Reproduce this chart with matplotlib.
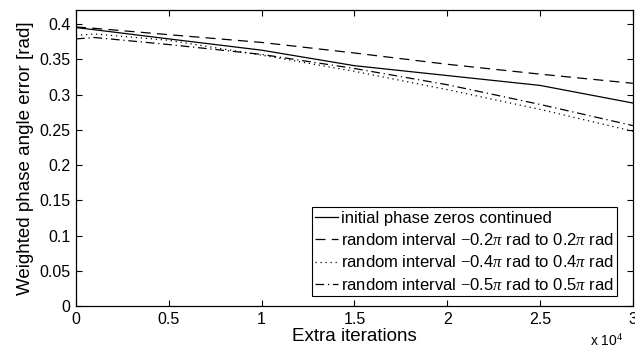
import matplotlib
matplotlib.use("Agg")
import matplotlib.pyplot as plt
from matplotlib.ticker import FuncFormatter

plt.rcParams["font.family"] = ["Liberation Sans", "DejaVu Sans"]
plt.rcParams["mathtext.fontset"] = "custom"
plt.rcParams["mathtext.rm"] = "Liberation Serif"
plt.rcParams["mathtext.it"] = "Liberation Serif:italic"

# Data (extra iterations, weighted phase angle error in rad)
iterations = [0, 1000, 5000, 10000, 15000, 20000, 25000, 30000]
err_zeros = [0.395, 0.392, 0.379, 0.363, 0.341, 0.327, 0.313, 0.288]
err_pi02 = [0.396, 0.394, 0.385, 0.374, 0.359, 0.343, 0.329, 0.316]
err_pi04 = [0.384, 0.386, 0.377, 0.356, 0.333, 0.307, 0.279, 0.248]
err_pi05 = [0.379, 0.381, 0.371, 0.357, 0.337, 0.314, 0.286, 0.256]

labels = [
    "initial phase zeros continued",
    r"random interval $-$0.2$\pi$ rad to 0.2$\pi$ rad",
    r"random interval $-$0.4$\pi$ rad to 0.4$\pi$ rad",
    r"random interval $-$0.5$\pi$ rad to 0.5$\pi$ rad",
]

fig = plt.figure(figsize=(6.35, 3.5), dpi=100)
ax = fig.add_axes([0.1197, 0.1257, 0.877, 0.8457])

lw = 0.9
ax.plot(iterations, err_zeros, color="black", lw=lw, linestyle="-", label=labels[0])
ax.plot(iterations, err_pi02, color="black", lw=lw, linestyle=(0, (8, 5)), label=labels[1])
ax.plot(iterations, err_pi04, color="black", lw=lw, linestyle=(0, (1, 3)), label=labels[2])
ax.plot(iterations, err_pi05, color="black", lw=lw, linestyle=(0, (7, 3, 1, 3)), label=labels[3])

ax.set_xlim(0, 30000)
ax.set_ylim(0, 0.42)
ax.set_xticks([0, 5000, 10000, 15000, 20000, 25000, 30000])
ax.set_yticks([0, 0.05, 0.1, 0.15, 0.2, 0.25, 0.3, 0.35, 0.4])
ax.xaxis.set_major_formatter(FuncFormatter(lambda x, pos: f"{x / 1e4:g}"))
ax.yaxis.set_major_formatter(FuncFormatter(lambda y, pos: f"{y:g}"))
ax.tick_params(direction="in", top=True, right=True, labelsize=11.5, length=4, width=0.8, pad=4)
for s in ax.spines.values():
    s.set_linewidth(0.9)

ax.set_xlabel("Extra iterations", fontsize=13.5, labelpad=1)
ax.set_ylabel("Weighted phase angle error [rad]", fontsize=13.5, labelpad=4)
fig.text(623 / 635, 1 / 350, r"x 10$^4$", ha="right", va="bottom", fontsize=10)

leg = ax.legend(loc="lower right", bbox_to_anchor=(0.9713, 0.0338), borderaxespad=0,
                fontsize=12, handlelength=1.4, handletextpad=0.15,
                borderpad=0.2, labelspacing=0.38, fancybox=False,
                framealpha=1, edgecolor="black")
leg.get_frame().set_linewidth(0.8)

fig.savefig("out.png", dpi=100)
